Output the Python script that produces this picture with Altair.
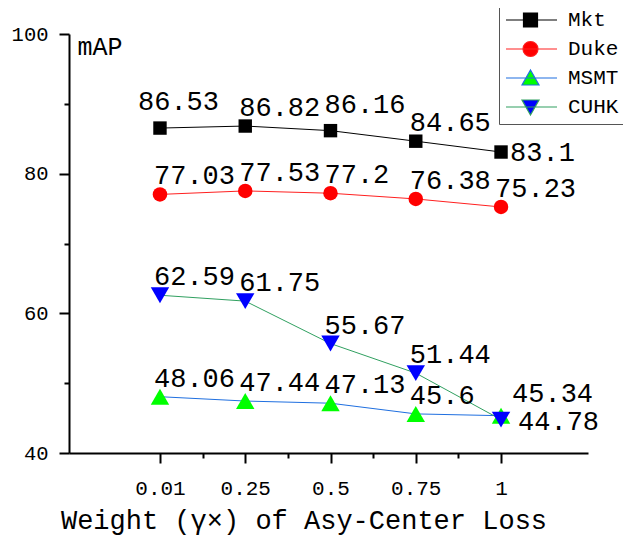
import altair as alt
import pandas as pd

weights = ["0.01", "0.25", "0.5", "0.75", "1"]
series_names = ["Mkt", "Duke", "MSMT", "CUHK"]
mkt = [86.53, 86.82, 86.16, 84.65, 83.1]
duke = [77.03, 77.53, 77.2, 76.38, 75.23]
msmt = [48.06, 47.44, 47.13, 45.6, 45.34]
cuhk = [62.59, 61.75, 55.67, 51.44, 44.78]

line_colors = ["#000000", "#ff2020", "#1f6fe0", "#30a060"]
marker_colors = ["#000000", "#ff0000", "#00ff00", "#0000ff"]
marker_shapes = ["square", "circle", "triangle-up", "triangle-down"]

FONT = "Liberation Mono"

rows = []
for name, vals in zip(series_names, [mkt, duke, msmt, cuhk]):
    for i, v in enumerate(vals):
        rows.append({"series": name, "idx": i, "value": v, "label": f"{v:g}"})
df = pd.DataFrame(rows)

# legend symbols: horizontal line with the marker on it
LINE = "M-1,0H4.1"
legend_paths = [
    LINE + "M0.75,-0.7H2.15V0.7H0.75Z",
    LINE + "M2.2,0A0.75,0.75,0,1,1,0.7,0A0.75,0.75,0,1,1,2.2,0Z",
    LINE + "M1.45,-0.8L2.3,0.7L0.6,0.7Z",
    LINE + "M1.45,0.8L2.3,-0.7L0.6,-0.7Z",
]

xs = alt.Scale(domain=[-1.067, 5.02], nice=False, zero=False)
ys = alt.Scale(domain=[40, 100], nice=False, zero=False)

leg = alt.Legend(
    title=None, orient="none", legendX=430, legendY=-31,
    symbolSize=400, symbolStrokeWidth=1.2, symbolOpacity=1,
    labelFont=FONT, labelFontSize=21, labelColor="black", labelOffset=41,
    padding=6, rowPadding=8, strokeColor="#555555", fillColor="white",
)

label_expr = "[" + ",".join(f"'{w}'" for w in weights) + "][datum.value]"

base = alt.Chart(df)

legend_layer = base.mark_point(filled=True, opacity=0).encode(
    x=alt.X("idx:Q", scale=xs, axis=alt.Axis(values=[0.5, 1.5, 2.5, 3.5], tickSize=5, labels=False,
                                              domain=False, title=None, grid=False, orient="bottom")),
    y=alt.Y("value:Q", scale=ys, axis=alt.Axis(values=[50, 70, 90], tickSize=5, labels=False,
                                                domain=False, title=None, grid=False, orient="left")),
    shape=alt.Shape("series:N", scale=alt.Scale(domain=series_names, range=legend_paths), legend=leg),
    fill=alt.Fill("series:N", scale=alt.Scale(domain=series_names, range=marker_colors), legend=leg),
    stroke=alt.Stroke("series:N", scale=alt.Scale(domain=series_names, range=line_colors), legend=leg),
)

lines = base.mark_line(strokeWidth=1).encode(
    x=alt.X("idx:Q", scale=xs, axis=alt.Axis(
        values=[0, 1, 2, 3, 4], labelExpr=label_expr, tickSize=10, labelPadding=14,
        labelFont=FONT, labelFontSize=21, labelColor="black",
        title="Weight (γ×) of Asy-Center Loss", titleX=234.5, titleY=75,
        titleAlign="center", titleBaseline="alphabetic", titleFontSize=27,
        grid=False, orient="bottom")),
    y=alt.Y("value:Q", scale=ys, axis=alt.Axis(
        values=[40, 60, 80, 100], tickSize=10, labelPadding=11,
        labelFont=FONT, labelFontSize=20.5, labelColor="black",
        title="mAP", titleAngle=0, titleX=8, titleY=0, titleAlign="left",
        titleBaseline="top", titleFontSize=25, grid=False, orient="left")),
    stroke=alt.Stroke("series:N", scale=alt.Scale(domain=series_names, range=line_colors), legend=None),
    order="idx:Q",
)

sizes = {"square": 180, "circle": 210, "triangle-up": 340, "triangle-down": 340}
point_layers = []
for name, shp, col in zip(series_names, marker_shapes, marker_colors):
    point_layers.append(
        base.transform_filter(alt.datum.series == name)
        .mark_point(shape=shp, filled=True, fill=col, size=sizes[shp], opacity=1, strokeWidth=0)
        .encode(x=alt.X("idx:Q", scale=xs, axis=None), y=alt.Y("value:Q", scale=ys, axis=None))
    )

specials = [
    ("Mkt", 0, dict(dx=-22, dy=-18, baseline="alphabetic")),
    ("Mkt", 2, dict(dx=-6, dy=-18, baseline="alphabetic")),
    ("Mkt", 4, dict(dx=9, dy=1, baseline="middle")),
    ("MSMT", 4, dict(dx=11, dy=-14, baseline="alphabetic")),
    ("CUHK", 4, dict(dx=17, dy=2, baseline="middle")),
]
special_expr = " || ".join(f"(datum.series == '{s}' && datum.idx == {i})" for s, i, _ in specials)

text_enc = dict(
    x=alt.X("idx:Q", scale=xs, axis=None),
    y=alt.Y("value:Q", scale=ys, axis=None),
    text="label:N",
)
text_layers = [
    base.transform_filter(f"!({special_expr})")
    .mark_text(align="left", baseline="alphabetic", dx=-6, dy=-10, font=FONT, fontSize=27, color="black")
    .encode(**text_enc)
]
for s, i, opts in specials:
    text_layers.append(
        base.transform_filter(f"datum.series == '{s}' && datum.idx == {i}")
        .mark_text(align="left", font=FONT, fontSize=27, color="black", **opts)
        .encode(**text_enc)
    )

chart = (
    alt.layer(legend_layer, lines, *point_layers, *text_layers)
    .resolve_axis(x="independent", y="independent")
    .properties(
        width=519, height=419,
        padding={"left": 61, "top": 26, "right": 35, "bottom": 82},
        autosize=alt.AutoSizeParams(type="none"),
    )
    .configure_view(stroke=None)
    .configure_axis(
        domainColor="black", domainWidth=2, tickColor="black", tickWidth=2,
        labelFont=FONT, labelFontSize=21, labelColor="black",
        titleFont=FONT, titleColor="black", titleFontWeight="normal", grid=False,
    )
)

chart.save("out.html", embed_options={"renderer": "svg", "actions": False})
